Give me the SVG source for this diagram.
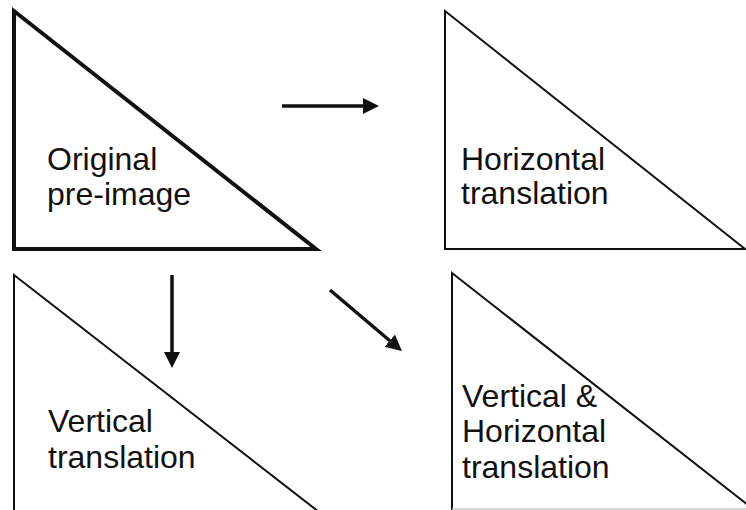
<svg xmlns="http://www.w3.org/2000/svg" width="746" height="510" viewBox="0 0 746 510">
  <style>
    .tri { fill: none; stroke: #111; stroke-width: 2; stroke-linejoin: miter; }
    .thick { stroke-width: 4; }
    .lbl { font-family: "Liberation Sans", Arial, sans-serif; font-size: 32px; fill: #111; }
    .arrow { stroke: #111; stroke-width: 3.5; fill: none; marker-end: url(#head); }
  </style>
  <defs>
    <marker id="head" viewBox="0 0 16 16" refX="2" refY="8" markerWidth="16" markerHeight="16" markerUnits="userSpaceOnUse" orient="auto">
      <path d="M0,0 L16,8 L0,16 z" fill="#111"/>
    </marker>
  </defs>
  <rect width="746" height="510" fill="#fff"/>

  <g id="original">
    <polygon class="tri thick" points="14,11 14,249 316,249"/>
    <text class="lbl" x="47" y="170">Original</text>
    <text class="lbl" x="47" y="205">pre-image</text>
  </g>

  <g id="horizontal">
    <polygon class="tri" points="445,11 445,249 745,249"/>
    <text class="lbl" x="461" y="170">Horizontal</text>
    <text class="lbl" x="461" y="204">translation</text>
  </g>

  <g id="vertical">
    <polyline class="tri" points="14,512 14,275 319,512"/>
    <text class="lbl" x="48" y="432">Vertical</text>
    <text class="lbl" x="48" y="468">translation</text>
  </g>

  <g id="both">
    <polyline class="tri" points="452,512 452,273 748,505"/>
    <line x1="452" y1="509" x2="746" y2="509" stroke="#ccc" stroke-width="1.5"/>
    <text class="lbl" x="462" y="407">Vertical &amp;</text>
    <text class="lbl" x="462" y="442">Horizontal</text>
    <text class="lbl" x="462" y="478">translation</text>
  </g>

  <g id="connectors">
    <line class="arrow" x1="282" y1="106" x2="365" y2="106"/>
    <line class="arrow" x1="172" y1="275" x2="172" y2="354"/>
    <line class="arrow" x1="330" y1="290" x2="391.3" y2="342"/>
  </g>
</svg>
